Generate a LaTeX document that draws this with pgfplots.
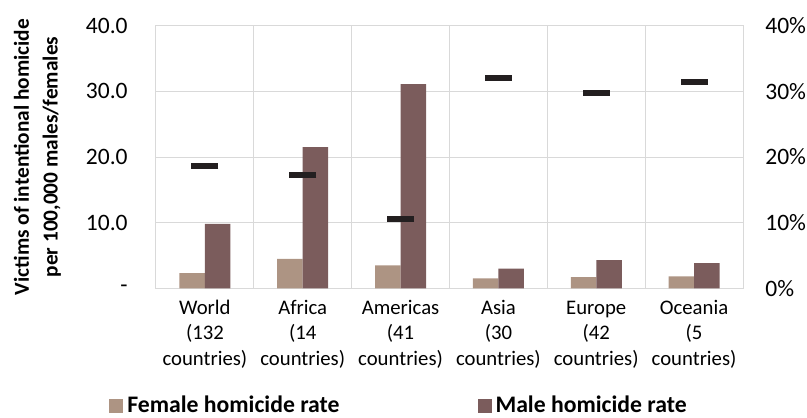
\documentclass[border=0pt]{standalone}
\usepackage{fontspec}
\setmainfont{Carlito}
\usepackage{pgfplots}
\pgfplotsset{compat=1.18}
\definecolor{fem}{RGB}{173,148,131}
\definecolor{mal}{RGB}{123,92,92}
\definecolor{gridc}{RGB}{217,217,217}
\definecolor{dashc}{RGB}{35,31,32}
\begin{document}
\begin{tikzpicture}
\useasboundingbox (-78bp,-64.85bp) rectangle (325.5bp,144.15bp);
\begin{axis}[
  at={(0,0)}, anchor=south west,
  scale only axis, width=293.5bp, height=131.3bp,
  xmin=-0.5, xmax=5.5, ymin=0, ymax=40,
  ybar=0pt, bar width=12.75bp,
  xtick={0,...,5},
  xticklabels={{World\\(132\\countries)},{Africa\\(14\\countries)},{Americas\\(41\\countries)},{Asia\\(30\\countries)},{Europe\\(42\\countries)},{Oceania\\(5\\countries)}},
  xticklabel style={align=center, anchor=base, inner sep=0pt, yshift=-38.4bp, font=\fontsize{10.4}{12.75}\selectfont},
  minor xtick={0.5,1.5,2.5,3.5,4.5},
  xminorgrids, minor x grid style={gridc, line width=0.5bp},
  ytick={0,10,20,30,40},
  yticklabels={{-\hspace{6.5bp}},10.0,20.0,30.0,40.0},
  yticklabel style={anchor=east, inner sep=0pt, xshift=-14bp, font=\fontsize{11.8}{14}\selectfont},
  ymajorgrids, major grid style={gridc, line width=0.5bp},
  tick style={draw=none}, major tick length=0pt, minor tick length=0pt,
  axis line style={gridc, line width=0.5bp},
  ylabel={Victims of intentional homicide\\per 100,000 males/females},
  ylabel style={at={(axis description cs:-0.2019,0.5)}, anchor=center, align=center, font=\bfseries\fontsize{10.7}{14.5}\selectfont},
  legend style={at={(axis description cs:-0.0801,-0.448)}, anchor=west, draw=none, fill=none, legend columns=2,
    font=\bfseries\fontsize{11.9}{14}\selectfont, inner sep=0pt,
    /tikz/every even column/.append style={column sep=67bp}},
  legend image code/.code={\fill[#1] (0bp,-3.5bp) rectangle (7bp,3.5bp);},
]
\addplot[fill=fem, draw=none] coordinates {(0,2.3) (1,4.5) (2,3.5) (3,1.5) (4,1.7) (5,1.8)};
\addlegendentry{Female homicide rate}
\addplot[fill=mal, draw=none] coordinates {(0,9.8) (1,21.5) (2,31.1) (3,3.0) (4,4.3) (5,3.85)};
\addlegendentry{Male homicide rate}
\end{axis}
\begin{axis}[
  at={(0,0)}, anchor=south west,
  scale only axis, width=293.5bp, height=131.3bp,
  xmin=-0.5, xmax=5.5, ymin=0, ymax=40,
  axis x line=none, axis y line*=right, axis line style={draw=none},
  ytick={0,10,20,30,40},
  yticklabels={0\%,10\%,20\%,30\%,40\%},
  yticklabel style={anchor=west, inner sep=0pt, xshift=11bp, font=\fontsize{11.8}{14}\selectfont},
  tick style={draw=none}, major tick length=0pt,
]
\addplot[only marks, color=dashc, mark=-, mark size=6.75bp, mark options={line width=3bp, color=dashc}] coordinates {(0,18.6) (1,17.2) (2,10.5) (3,32.0) (4,29.7) (5,31.4)};
\end{axis}
\end{tikzpicture}
\end{document}
